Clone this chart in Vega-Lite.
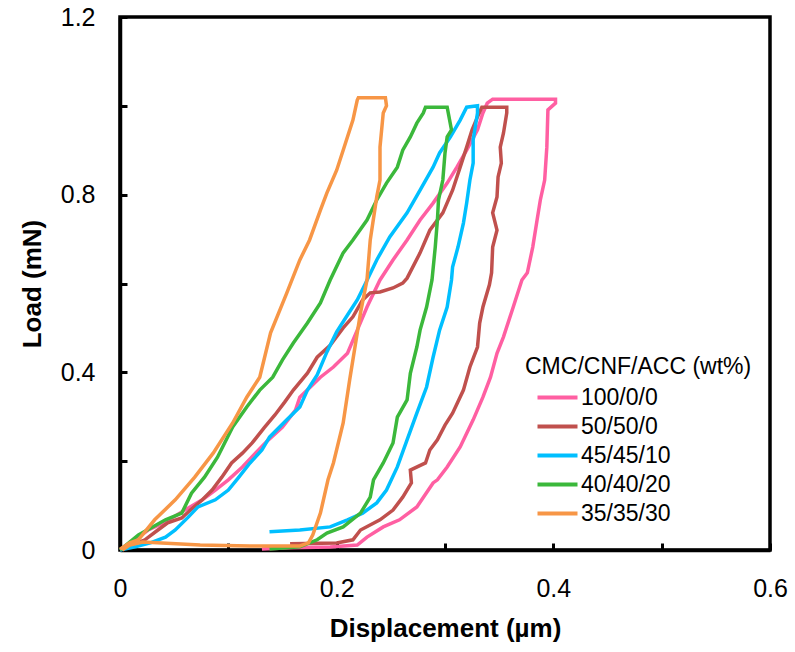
{
  "$schema": "https://vega.github.io/schema/vega-lite/v6.json",
  "width": 650,
  "height": 533,
  "autosize": {"type": "none"},
  "padding": {"left": 120, "top": 17, "right": 25, "bottom": 102},
  "background": "white",
  "config": {
    "font": "Liberation Sans",
    "view": {"stroke": "black", "strokeWidth": 3.5},
    "axis": {"grid": false, "domainColor": "black", "domainWidth": 3.5, "tickColor": "black", "tickWidth": 3, "tickSize": -7, "labelColor": "black", "labelFont": "Liberation Sans", "labelFontSize": 25, "labelFlush": false, "labelOverlap": false, "titleColor": "black", "titleFont": "Liberation Sans", "titleFontSize": 26, "titleFontWeight": "bold"},
    "legend": {"titleFont": "Liberation Sans", "labelFont": "Liberation Sans"}
  },
  "datasets": {
    "d": [
      {"s":"100/0/0","i":0,"x":0,"y":0},
      {"s":"100/0/0","i":1,"x":0.014,"y":0.023},
      {"s":"100/0/0","i":2,"x":0.026,"y":0.045},
      {"s":"100/0/0","i":3,"x":0.042,"y":0.063},
      {"s":"100/0/0","i":4,"x":0.060,"y":0.090},
      {"s":"100/0/0","i":5,"x":0.076,"y":0.113},
      {"s":"100/0/0","i":6,"x":0.088,"y":0.135},
      {"s":"100/0/0","i":7,"x":0.100,"y":0.158},
      {"s":"100/0/0","i":8,"x":0.113,"y":0.187},
      {"s":"100/0/0","i":9,"x":0.125,"y":0.218},
      {"s":"100/0/0","i":10,"x":0.137,"y":0.248},
      {"s":"100/0/0","i":11,"x":0.150,"y":0.277},
      {"s":"100/0/0","i":12,"x":0.162,"y":0.315},
      {"s":"100/0/0","i":13,"x":0.166,"y":0.344},
      {"s":"100/0/0","i":14,"x":0.185,"y":0.389},
      {"s":"100/0/0","i":15,"x":0.197,"y":0.412},
      {"s":"100/0/0","i":16,"x":0.210,"y":0.443},
      {"s":"100/0/0","i":17,"x":0.219,"y":0.495},
      {"s":"100/0/0","i":18,"x":0.228,"y":0.547},
      {"s":"100/0/0","i":19,"x":0.240,"y":0.608},
      {"s":"100/0/0","i":20,"x":0.252,"y":0.653},
      {"s":"100/0/0","i":21,"x":0.265,"y":0.698},
      {"s":"100/0/0","i":22,"x":0.277,"y":0.743},
      {"s":"100/0/0","i":23,"x":0.289,"y":0.781},
      {"s":"100/0/0","i":24,"x":0.302,"y":0.826},
      {"s":"100/0/0","i":25,"x":0.311,"y":0.862},
      {"s":"100/0/0","i":26,"x":0.320,"y":0.900},
      {"s":"100/0/0","i":27,"x":0.330,"y":0.946},
      {"s":"100/0/0","i":28,"x":0.335,"y":0.984},
      {"s":"100/0/0","i":29,"x":0.339,"y":1.006},
      {"s":"100/0/0","i":30,"x":0.344,"y":1.015},
      {"s":"100/0/0","i":31,"x":0.402,"y":1.015},
      {"s":"100/0/0","i":32,"x":0.402,"y":1.006},
      {"s":"100/0/0","i":33,"x":0.395,"y":0.991},
      {"s":"100/0/0","i":34,"x":0.394,"y":0.907},
      {"s":"100/0/0","i":35,"x":0.392,"y":0.833},
      {"s":"100/0/0","i":36,"x":0.388,"y":0.788},
      {"s":"100/0/0","i":37,"x":0.385,"y":0.743},
      {"s":"100/0/0","i":38,"x":0.381,"y":0.682},
      {"s":"100/0/0","i":39,"x":0.376,"y":0.624},
      {"s":"100/0/0","i":40,"x":0.371,"y":0.608},
      {"s":"100/0/0","i":41,"x":0.363,"y":0.547},
      {"s":"100/0/0","i":42,"x":0.354,"y":0.480},
      {"s":"100/0/0","i":43,"x":0.348,"y":0.443},
      {"s":"100/0/0","i":44,"x":0.342,"y":0.389},
      {"s":"100/0/0","i":45,"x":0.335,"y":0.344},
      {"s":"100/0/0","i":46,"x":0.326,"y":0.293},
      {"s":"100/0/0","i":47,"x":0.314,"y":0.232},
      {"s":"100/0/0","i":48,"x":0.302,"y":0.187},
      {"s":"100/0/0","i":49,"x":0.293,"y":0.158},
      {"s":"100/0/0","i":50,"x":0.289,"y":0.151},
      {"s":"100/0/0","i":51,"x":0.274,"y":0.097},
      {"s":"100/0/0","i":52,"x":0.258,"y":0.068},
      {"s":"100/0/0","i":53,"x":0.243,"y":0.052},
      {"s":"100/0/0","i":54,"x":0.228,"y":0.029},
      {"s":"100/0/0","i":55,"x":0.219,"y":0.011},
      {"s":"100/0/0","i":56,"x":0.194,"y":0.007},
      {"s":"100/0/0","i":57,"x":0.157,"y":0.005},
      {"s":"100/0/0","i":58,"x":0.131,"y":0.002},

      {"s":"50/50/0","i":0,"x":0,"y":0},
      {"s":"50/50/0","i":1,"x":0.011,"y":0.011},
      {"s":"50/50/0","i":2,"x":0.023,"y":0.023},
      {"s":"50/50/0","i":3,"x":0.035,"y":0.045},
      {"s":"50/50/0","i":4,"x":0.044,"y":0.061},
      {"s":"50/50/0","i":5,"x":0.057,"y":0.072},
      {"s":"50/50/0","i":6,"x":0.065,"y":0.090},
      {"s":"50/50/0","i":7,"x":0.076,"y":0.113},
      {"s":"50/50/0","i":8,"x":0.085,"y":0.135},
      {"s":"50/50/0","i":9,"x":0.094,"y":0.164},
      {"s":"50/50/0","i":10,"x":0.103,"y":0.196},
      {"s":"50/50/0","i":11,"x":0.113,"y":0.218},
      {"s":"50/50/0","i":12,"x":0.122,"y":0.241},
      {"s":"50/50/0","i":13,"x":0.133,"y":0.275},
      {"s":"50/50/0","i":14,"x":0.143,"y":0.304},
      {"s":"50/50/0","i":15,"x":0.152,"y":0.333},
      {"s":"50/50/0","i":16,"x":0.160,"y":0.360},
      {"s":"50/50/0","i":17,"x":0.173,"y":0.398},
      {"s":"50/50/0","i":18,"x":0.182,"y":0.434},
      {"s":"50/50/0","i":19,"x":0.194,"y":0.461},
      {"s":"50/50/0","i":20,"x":0.206,"y":0.500},
      {"s":"50/50/0","i":21,"x":0.215,"y":0.525},
      {"s":"50/50/0","i":22,"x":0.224,"y":0.563},
      {"s":"50/50/0","i":23,"x":0.231,"y":0.579},
      {"s":"50/50/0","i":24,"x":0.240,"y":0.581},
      {"s":"50/50/0","i":25,"x":0.252,"y":0.590},
      {"s":"50/50/0","i":26,"x":0.261,"y":0.601},
      {"s":"50/50/0","i":27,"x":0.265,"y":0.612},
      {"s":"50/50/0","i":28,"x":0.277,"y":0.669},
      {"s":"50/50/0","i":29,"x":0.286,"y":0.720},
      {"s":"50/50/0","i":30,"x":0.298,"y":0.759},
      {"s":"50/50/0","i":31,"x":0.307,"y":0.810},
      {"s":"50/50/0","i":32,"x":0.314,"y":0.862},
      {"s":"50/50/0","i":33,"x":0.320,"y":0.907},
      {"s":"50/50/0","i":34,"x":0.325,"y":0.946},
      {"s":"50/50/0","i":35,"x":0.330,"y":0.975},
      {"s":"50/50/0","i":36,"x":0.334,"y":0.997},
      {"s":"50/50/0","i":37,"x":0.357,"y":0.997},
      {"s":"50/50/0","i":38,"x":0.357,"y":0.984},
      {"s":"50/50/0","i":39,"x":0.354,"y":0.939},
      {"s":"50/50/0","i":40,"x":0.351,"y":0.907},
      {"s":"50/50/0","i":41,"x":0.352,"y":0.871},
      {"s":"50/50/0","i":42,"x":0.349,"y":0.840},
      {"s":"50/50/0","i":43,"x":0.348,"y":0.795},
      {"s":"50/50/0","i":44,"x":0.344,"y":0.759},
      {"s":"50/50/0","i":45,"x":0.348,"y":0.720},
      {"s":"50/50/0","i":46,"x":0.344,"y":0.682},
      {"s":"50/50/0","i":47,"x":0.343,"y":0.624},
      {"s":"50/50/0","i":48,"x":0.341,"y":0.597},
      {"s":"50/50/0","i":49,"x":0.335,"y":0.547},
      {"s":"50/50/0","i":50,"x":0.332,"y":0.511},
      {"s":"50/50/0","i":51,"x":0.330,"y":0.457},
      {"s":"50/50/0","i":52,"x":0.323,"y":0.412},
      {"s":"50/50/0","i":53,"x":0.317,"y":0.360},
      {"s":"50/50/0","i":54,"x":0.307,"y":0.308},
      {"s":"50/50/0","i":55,"x":0.300,"y":0.281},
      {"s":"50/50/0","i":56,"x":0.293,"y":0.248},
      {"s":"50/50/0","i":57,"x":0.286,"y":0.225},
      {"s":"50/50/0","i":58,"x":0.282,"y":0.196},
      {"s":"50/50/0","i":59,"x":0.268,"y":0.180},
      {"s":"50/50/0","i":60,"x":0.269,"y":0.151},
      {"s":"50/50/0","i":61,"x":0.261,"y":0.119},
      {"s":"50/50/0","i":62,"x":0.252,"y":0.090},
      {"s":"50/50/0","i":63,"x":0.240,"y":0.068},
      {"s":"50/50/0","i":64,"x":0.222,"y":0.045},
      {"s":"50/50/0","i":65,"x":0.215,"y":0.023},
      {"s":"50/50/0","i":66,"x":0.200,"y":0.016},
      {"s":"50/50/0","i":67,"x":0.157,"y":0.014},

      {"s":"45/45/10","i":0,"x":0,"y":0},
      {"s":"45/45/10","i":1,"x":0.014,"y":0.007},
      {"s":"45/45/10","i":2,"x":0.028,"y":0.016},
      {"s":"45/45/10","i":3,"x":0.042,"y":0.029},
      {"s":"45/45/10","i":4,"x":0.051,"y":0.045},
      {"s":"45/45/10","i":5,"x":0.063,"y":0.074},
      {"s":"45/45/10","i":6,"x":0.072,"y":0.097},
      {"s":"45/45/10","i":7,"x":0.088,"y":0.113},
      {"s":"45/45/10","i":8,"x":0.100,"y":0.135},
      {"s":"45/45/10","i":9,"x":0.109,"y":0.162},
      {"s":"45/45/10","i":10,"x":0.120,"y":0.196},
      {"s":"45/45/10","i":11,"x":0.131,"y":0.225},
      {"s":"45/45/10","i":12,"x":0.138,"y":0.254},
      {"s":"45/45/10","i":13,"x":0.154,"y":0.293},
      {"s":"45/45/10","i":14,"x":0.166,"y":0.322},
      {"s":"45/45/10","i":15,"x":0.173,"y":0.360},
      {"s":"45/45/10","i":16,"x":0.182,"y":0.394},
      {"s":"45/45/10","i":17,"x":0.191,"y":0.446},
      {"s":"45/45/10","i":18,"x":0.200,"y":0.491},
      {"s":"45/45/10","i":19,"x":0.210,"y":0.529},
      {"s":"45/45/10","i":20,"x":0.219,"y":0.563},
      {"s":"45/45/10","i":21,"x":0.226,"y":0.597},
      {"s":"45/45/10","i":22,"x":0.237,"y":0.653},
      {"s":"45/45/10","i":23,"x":0.249,"y":0.705},
      {"s":"45/45/10","i":24,"x":0.265,"y":0.759},
      {"s":"45/45/10","i":25,"x":0.277,"y":0.810},
      {"s":"45/45/10","i":26,"x":0.289,"y":0.862},
      {"s":"45/45/10","i":27,"x":0.295,"y":0.894},
      {"s":"45/45/10","i":28,"x":0.305,"y":0.930},
      {"s":"45/45/10","i":29,"x":0.314,"y":0.968},
      {"s":"45/45/10","i":30,"x":0.320,"y":0.997},
      {"s":"45/45/10","i":31,"x":0.330,"y":1.000},
      {"s":"45/45/10","i":32,"x":0.330,"y":0.984},
      {"s":"45/45/10","i":33,"x":0.326,"y":0.923},
      {"s":"45/45/10","i":34,"x":0.326,"y":0.871},
      {"s":"45/45/10","i":35,"x":0.323,"y":0.833},
      {"s":"45/45/10","i":36,"x":0.320,"y":0.781},
      {"s":"45/45/10","i":37,"x":0.317,"y":0.736},
      {"s":"45/45/10","i":38,"x":0.312,"y":0.682},
      {"s":"45/45/10","i":39,"x":0.307,"y":0.637},
      {"s":"45/45/10","i":40,"x":0.306,"y":0.608},
      {"s":"45/45/10","i":41,"x":0.302,"y":0.547},
      {"s":"45/45/10","i":42,"x":0.295,"y":0.495},
      {"s":"45/45/10","i":43,"x":0.289,"y":0.434},
      {"s":"45/45/10","i":44,"x":0.283,"y":0.367},
      {"s":"45/45/10","i":45,"x":0.274,"y":0.308},
      {"s":"45/45/10","i":46,"x":0.265,"y":0.248},
      {"s":"45/45/10","i":47,"x":0.256,"y":0.187},
      {"s":"45/45/10","i":48,"x":0.246,"y":0.135},
      {"s":"45/45/10","i":49,"x":0.237,"y":0.106},
      {"s":"45/45/10","i":50,"x":0.224,"y":0.083},
      {"s":"45/45/10","i":51,"x":0.210,"y":0.068},
      {"s":"45/45/10","i":52,"x":0.194,"y":0.052},
      {"s":"45/45/10","i":53,"x":0.166,"y":0.045},
      {"s":"45/45/10","i":54,"x":0.138,"y":0.041},

      {"s":"40/40/20","i":0,"x":0,"y":0},
      {"s":"40/40/20","i":1,"x":0.017,"y":0.034},
      {"s":"40/40/20","i":2,"x":0.042,"y":0.068},
      {"s":"40/40/20","i":3,"x":0.057,"y":0.083},
      {"s":"40/40/20","i":4,"x":0.066,"y":0.128},
      {"s":"40/40/20","i":5,"x":0.078,"y":0.164},
      {"s":"40/40/20","i":6,"x":0.090,"y":0.209},
      {"s":"40/40/20","i":7,"x":0.104,"y":0.277},
      {"s":"40/40/20","i":8,"x":0.117,"y":0.322},
      {"s":"40/40/20","i":9,"x":0.129,"y":0.360},
      {"s":"40/40/20","i":10,"x":0.141,"y":0.389},
      {"s":"40/40/20","i":11,"x":0.150,"y":0.428},
      {"s":"40/40/20","i":12,"x":0.160,"y":0.466},
      {"s":"40/40/20","i":13,"x":0.173,"y":0.511},
      {"s":"40/40/20","i":14,"x":0.185,"y":0.556},
      {"s":"40/40/20","i":15,"x":0.194,"y":0.608},
      {"s":"40/40/20","i":16,"x":0.206,"y":0.669},
      {"s":"40/40/20","i":17,"x":0.215,"y":0.698},
      {"s":"40/40/20","i":18,"x":0.228,"y":0.743},
      {"s":"40/40/20","i":19,"x":0.237,"y":0.788},
      {"s":"40/40/20","i":20,"x":0.246,"y":0.826},
      {"s":"40/40/20","i":21,"x":0.256,"y":0.862},
      {"s":"40/40/20","i":22,"x":0.261,"y":0.900},
      {"s":"40/40/20","i":23,"x":0.268,"y":0.930},
      {"s":"40/40/20","i":24,"x":0.274,"y":0.961},
      {"s":"40/40/20","i":25,"x":0.280,"y":0.984},
      {"s":"40/40/20","i":26,"x":0.282,"y":0.997},
      {"s":"40/40/20","i":27,"x":0.302,"y":0.997},
      {"s":"40/40/20","i":28,"x":0.306,"y":0.946},
      {"s":"40/40/20","i":29,"x":0.302,"y":0.930},
      {"s":"40/40/20","i":30,"x":0.300,"y":0.894},
      {"s":"40/40/20","i":31,"x":0.298,"y":0.833},
      {"s":"40/40/20","i":32,"x":0.294,"y":0.788},
      {"s":"40/40/20","i":33,"x":0.293,"y":0.743},
      {"s":"40/40/20","i":34,"x":0.291,"y":0.682},
      {"s":"40/40/20","i":35,"x":0.288,"y":0.608},
      {"s":"40/40/20","i":36,"x":0.283,"y":0.547},
      {"s":"40/40/20","i":37,"x":0.277,"y":0.495},
      {"s":"40/40/20","i":38,"x":0.274,"y":0.457},
      {"s":"40/40/20","i":39,"x":0.268,"y":0.398},
      {"s":"40/40/20","i":40,"x":0.265,"y":0.338},
      {"s":"40/40/20","i":41,"x":0.256,"y":0.299},
      {"s":"40/40/20","i":42,"x":0.252,"y":0.241},
      {"s":"40/40/20","i":43,"x":0.243,"y":0.196},
      {"s":"40/40/20","i":44,"x":0.234,"y":0.158},
      {"s":"40/40/20","i":45,"x":0.231,"y":0.119},
      {"s":"40/40/20","i":46,"x":0.222,"y":0.083},
      {"s":"40/40/20","i":47,"x":0.206,"y":0.052},
      {"s":"40/40/20","i":48,"x":0.191,"y":0.038},
      {"s":"40/40/20","i":49,"x":0.182,"y":0.023},
      {"s":"40/40/20","i":50,"x":0.166,"y":0.007},
      {"s":"40/40/20","i":51,"x":0.138,"y":0.002},

      {"s":"35/35/30","i":0,"x":0,"y":0.002},
      {"s":"35/35/30","i":1,"x":0.009,"y":0.016},
      {"s":"35/35/30","i":2,"x":0.017,"y":0.023},
      {"s":"35/35/30","i":3,"x":0.032,"y":0.068},
      {"s":"35/35/30","i":4,"x":0.051,"y":0.113},
      {"s":"35/35/30","i":5,"x":0.069,"y":0.164},
      {"s":"35/35/30","i":6,"x":0.086,"y":0.218},
      {"s":"35/35/30","i":7,"x":0.104,"y":0.286},
      {"s":"35/35/30","i":8,"x":0.117,"y":0.344},
      {"s":"35/35/30","i":9,"x":0.129,"y":0.389},
      {"s":"35/35/30","i":10,"x":0.139,"y":0.489},
      {"s":"35/35/30","i":11,"x":0.154,"y":0.579},
      {"s":"35/35/30","i":12,"x":0.166,"y":0.653},
      {"s":"35/35/30","i":13,"x":0.175,"y":0.698},
      {"s":"35/35/30","i":14,"x":0.185,"y":0.765},
      {"s":"35/35/30","i":15,"x":0.191,"y":0.804},
      {"s":"35/35/30","i":16,"x":0.200,"y":0.855},
      {"s":"35/35/30","i":17,"x":0.206,"y":0.900},
      {"s":"35/35/30","i":18,"x":0.215,"y":0.968},
      {"s":"35/35/30","i":19,"x":0.219,"y":1.013},
      {"s":"35/35/30","i":20,"x":0.220,"y":1.018},
      {"s":"35/35/30","i":21,"x":0.245,"y":1.018},
      {"s":"35/35/30","i":22,"x":0.246,"y":1.000},
      {"s":"35/35/30","i":23,"x":0.243,"y":0.984},
      {"s":"35/35/30","i":24,"x":0.240,"y":0.907},
      {"s":"35/35/30","i":25,"x":0.240,"y":0.833},
      {"s":"35/35/30","i":26,"x":0.237,"y":0.795},
      {"s":"35/35/30","i":27,"x":0.231,"y":0.698},
      {"s":"35/35/30","i":28,"x":0.228,"y":0.608},
      {"s":"35/35/30","i":29,"x":0.222,"y":0.534},
      {"s":"35/35/30","i":30,"x":0.212,"y":0.383},
      {"s":"35/35/30","i":31,"x":0.206,"y":0.286},
      {"s":"35/35/30","i":32,"x":0.197,"y":0.196},
      {"s":"35/35/30","i":33,"x":0.192,"y":0.158},
      {"s":"35/35/30","i":34,"x":0.185,"y":0.083},
      {"s":"35/35/30","i":35,"x":0.178,"y":0.034},
      {"s":"35/35/30","i":36,"x":0.174,"y":0.016},
      {"s":"35/35/30","i":37,"x":0.166,"y":0.009},
      {"s":"35/35/30","i":38,"x":0.120,"y":0.009},
      {"s":"35/35/30","i":39,"x":0.074,"y":0.011},
      {"s":"35/35/30","i":40,"x":0.021,"y":0.018},
      {"s":"35/35/30","i":41,"x":0.009,"y":0.011},
      {"s":"35/35/30","i":42,"x":0.002,"y":0.0}
    ]
  },
  "data": {"name": "d"},
  "encoding": {
    "x": {"field": "x", "type": "quantitative", "scale": {"domain": [0, 0.6], "nice": false, "zero": false},
      "axis": {"title": "Displacement (µm)", "values": [0, 0.1, 0.2, 0.3, 0.4, 0.5, 0.6], "labelPadding": 33, "titlePadding": 14,
        "labelExpr": "round(datum.value*10) % 2 == 0 ? (datum.value == 0 ? '0' : format(datum.value, '.1f')) : ''"}},
    "y": {"field": "y", "type": "quantitative", "scale": {"domain": [0, 1.2], "nice": false, "zero": false},
      "axis": {"title": "Load (mN)", "values": [0, 0.2, 0.4, 0.6, 0.8, 1.0, 1.2], "labelPadding": 32, "titlePadding": 15,
        "labelExpr": "round(datum.value*10) % 4 == 0 ? (datum.value == 0 ? '0' : format(datum.value, '.1f')) : ''"}},
    "order": {"field": "i", "type": "quantitative"},
    "color": {"field": "s", "type": "nominal",
      "scale": {"domain": ["100/0/0", "50/50/0", "45/45/10", "40/40/20", "35/35/30"], "range": ["#FF5FA2", "#C0504D", "#00BFFF", "#3BB83B", "#F79646"]},
      "legend": {"title": "CMC/CNF/ACC (wt%)", "orient": "none", "legendX": 405, "legendY": 339, "padding": 0,
        "titleFontSize": 23, "titleFontWeight": "normal", "titleColor": "black", "titlePadding": 7, "titleLimit": 500,
        "labelFontSize": 23, "labelColor": "black", "labelOffset": 33, "labelLimit": 300, "rowPadding": 5,
        "symbolType": "M0.2,0H8.2", "symbolSize": 100, "symbolStrokeWidth": 4}}
  },
  "layer": [
    {"transform": [{"filter": "datum.s == '100/0/0'"}], "mark": {"type": "line", "strokeWidth": 3.5}},
    {"transform": [{"filter": "datum.s == '50/50/0'"}], "mark": {"type": "line", "strokeWidth": 3.5}},
    {"transform": [{"filter": "datum.s == '45/45/10'"}], "mark": {"type": "line", "strokeWidth": 3.5}},
    {"transform": [{"filter": "datum.s == '40/40/20'"}], "mark": {"type": "line", "strokeWidth": 3.5}},
    {"transform": [{"filter": "datum.s == '35/35/30'"}], "mark": {"type": "line", "strokeWidth": 3.5}}
  ]
}
